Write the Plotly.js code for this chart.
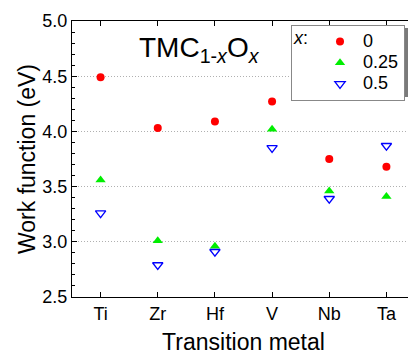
<!DOCTYPE html>
<html>
<head>
<meta charset="utf-8">
<script src="https://cdn.plot.ly/plotly-3.0.1.min.js"></script>
<style>
html,body{margin:0;padding:0;overflow:hidden;background:#fff;width:408px;height:355px;}
#chart{width:418px;height:355px;}
</style>
</head>
<body>
<div id="chart"></div>
<script>
const metals = ["Ti", "Zr", "Hf", "V", "Nb", "Ta"];
const wf_x0 = [4.49, 4.03, 4.09, 4.27, 3.75, 3.68];
const wf_x025 = [3.56, 3.01, 2.96, 4.02, 3.46, 3.41];
const wf_x05 = [3.26, 2.79, 2.91, 3.85, 3.39, 3.87];
const seriesNames = ["0", "0.25", "0.5"];

const font = "Liberation Sans, Arial, sans-serif";
const big = s => '<span style="font-size:18px">' + s + '</span>';

const traces = [
  {x: metals, y: wf_x0, name: big(seriesNames[0]), type: "scatter", mode: "markers",
   marker: {symbol: "circle", size: 8, color: "#ff0000"}},
  {x: metals, y: wf_x025, name: big(seriesNames[1]), type: "scatter", mode: "markers",
   marker: {symbol: "triangle-up", size: 9, color: "#00ee00"}},
  {x: metals, y: wf_x05, name: big(seriesNames[2]), type: "scatter", mode: "markers",
   marker: {symbol: "triangle-down-open", size: 9, color: "#0000ff", line: {width: 1.3, color: "#0000ff"}}}
];

const layout = {
  width: 418, height: 355,
  margin: {l: 72, r: 3, t: 21, b: 58},
  paper_bgcolor: "#fff", plot_bgcolor: "#fff",
  font: {family: font, color: "#000"},
  showlegend: true,
  xaxis: {
    type: "category", range: [-0.5, 5.5],
    showline: true, linecolor: "#000", linewidth: 1, mirror: "ticks",
    ticks: "inside", ticklen: 5, tickcolor: "#000",
    tickfont: {size: 18, family: font},
    showgrid: false, zeroline: false,
    title: {text: "Transition metal", font: {size: 23, family: font}, standoff: 16}
  },
  yaxis: {
    range: [2.5, 5.0], dtick: 0.5, tickformat: ".1f",
    showline: true, linecolor: "#000", linewidth: 1, mirror: "ticks",
    ticks: "inside", ticklen: 5, tickcolor: "#000",
    minor: {dtick: 0.1, ticks: "inside", ticklen: 3, tickcolor: "#000", showgrid: false},
    tickfont: {size: 18, family: font},
    showgrid: true, gridcolor: "#b0b0b0", griddash: "1px,2px", gridwidth: 1,
    zeroline: false,
    title: {text: "Work function (eV)", font: {size: 23, family: font}, standoff: 0}
  },
  legend: {
    x: (291 - 72) / 343, y: 0.986, xanchor: "left", yanchor: "top",
    bgcolor: "#fff", bordercolor: "#888", borderwidth: 1,
    font: {size: 14, family: font},
    title: {text: '<span style="font-size:18px"><i>x</i>:</span>', side: "left", font: {size: 14, family: font}},
    tracegroupgap: 0, itemwidth: 36
  },
  shapes: [
    {type: "rect", xref: "paper", yref: "paper", layer: "above",
     x0: (295 - 72) / 343, x1: (409.5 - 72) / 343, y0: (297 - 97) / 276, y1: (297 - 28) / 276,
     fillcolor: "#7a7a7a", line: {width: 0}}
  ],
  annotations: [
    {text: "TMC<sub>1-<i>x</i></sub>O<sub><i>x</i></sub>", xref: "paper", yref: "paper",
     x: (199 - 72) / 343, y: (297 - 49) / 276, xanchor: "center", yanchor: "middle",
     showarrow: false, font: {size: 28, family: font, color: "#000"}}
  ]
};

Plotly.newPlot("chart", traces, layout, {displayModeBar: false, staticPlot: true});
</script>
</body>
</html>
